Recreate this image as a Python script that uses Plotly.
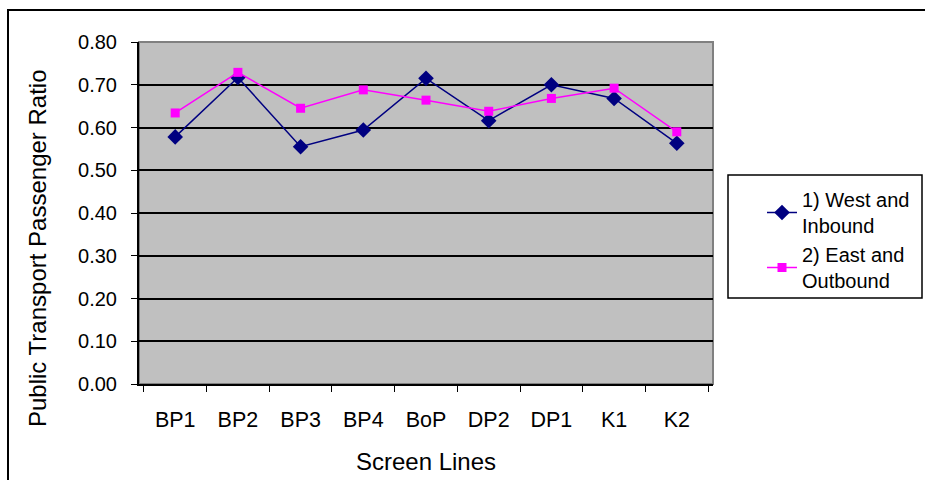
import plotly.graph_objects as go

# Screen lines along the x axis
screen_lines = ["BP1", "BP2", "BP3", "BP4", "BoP", "DP2", "DP1", "K1", "K2"]

# Public transport passenger ratio per direction
west_inbound = [0.578, 0.717, 0.555, 0.594, 0.715, 0.616, 0.700, 0.668, 0.563]
east_outbound = [0.634, 0.729, 0.645, 0.688, 0.664, 0.638, 0.668, 0.692, 0.590]

series_names = ["1) West and<br>Inbound", "2) East and<br>Outbound"]

y_ticks = [0.0, 0.1, 0.2, 0.3, 0.4, 0.5, 0.6, 0.7, 0.8]

FONT = "Liberation Sans, Arial, sans-serif"

# plot area in pixels
L, R, T, B = 139, 713, 42, 384
W_PA, H_PA = R - L, B - T


def px_x(p):
    return (p - L) / W_PA


def px_y(p):
    return (B - p) / H_PA


fig = go.Figure()
fig.add_trace(go.Scatter(
    x=screen_lines, y=west_inbound, name=series_names[0], mode="lines+markers",
    line=dict(color="#000080", width=1.5),
    marker=dict(symbol="diamond", size=12, color="#000080"),
))
fig.add_trace(go.Scatter(
    x=screen_lines, y=east_outbound, name=series_names[1], mode="lines+markers",
    line=dict(color="#FF00FF", width=1.5),
    marker=dict(symbol="square", size=9, color="#FF00FF"),
))

# outer frame of the chart area
fig.add_shape(type="rect", xref="paper", yref="paper",
              x0=px_x(8), y0=-1.0, x1=2.0, y1=px_y(10),
              line=dict(color="black", width=2), layer="below")
# grey frame round the plot area (top and right edges show)
fig.add_shape(type="rect", xref="paper", yref="paper",
              x0=0, y0=0, x1=1, y1=1,
              line=dict(color="#808080", width=2), layer="below")
# legend box
fig.add_shape(type="rect", xref="paper", yref="paper",
              x0=px_x(728), y0=px_y(298), x1=px_x(922), y1=px_y(175),
              line=dict(color="black", width=1.5), fillcolor="white", layer="below")

# y axis title, set lower than the axis centre
fig.add_annotation(
    text="Public Transport Passenger Ratio", textangle=-90,
    xref="paper", yref="paper", x=px_x(37), y=px_y(248),
    xanchor="center", yanchor="middle", showarrow=False,
    font=dict(family=FONT, size=24, color="black"),
)

fig.update_layout(
    width=925, height=480,
    margin=dict(l=L, r=925 - R, t=T, b=480 - B, autoexpand=False),
    paper_bgcolor="white",
    plot_bgcolor="#C0C0C0",
    font=dict(family=FONT, size=20, color="black"),
    showlegend=True,
    legend=dict(
        x=px_x(762), y=px_y(180), xanchor="left", yanchor="top",
        bgcolor="rgba(0,0,0,0)", borderwidth=0,
        font=dict(family=FONT, size=20, color="black"),
        tracegroupgap=4,
    ),
    xaxis=dict(
        type="category",
        automargin=False,
        title=dict(text="Screen Lines", font=dict(size=24), standoff=22),
        showgrid=False,
        showline=True, linecolor="black", linewidth=2,
        ticks="outside", tickson="boundaries", ticklen=6, tickcolor="black", tickwidth=1,
        tickfont=dict(size=21.5),
        ticklabelstandoff=15,
        zeroline=False,
    ),
    yaxis=dict(
        automargin=False,
        range=[0, 0.8],
        tickvals=y_ticks,
        tickformat=".2f",
        showgrid=True, gridcolor="black", gridwidth=1.6,
        showline=True, linecolor="black", linewidth=2,
        ticks="outside", ticklen=6, tickcolor="black", tickwidth=1,
        tickfont=dict(size=20),
        ticklabelstandoff=10,
        zeroline=False,
    ),
)

fig.write_html("out.html")
